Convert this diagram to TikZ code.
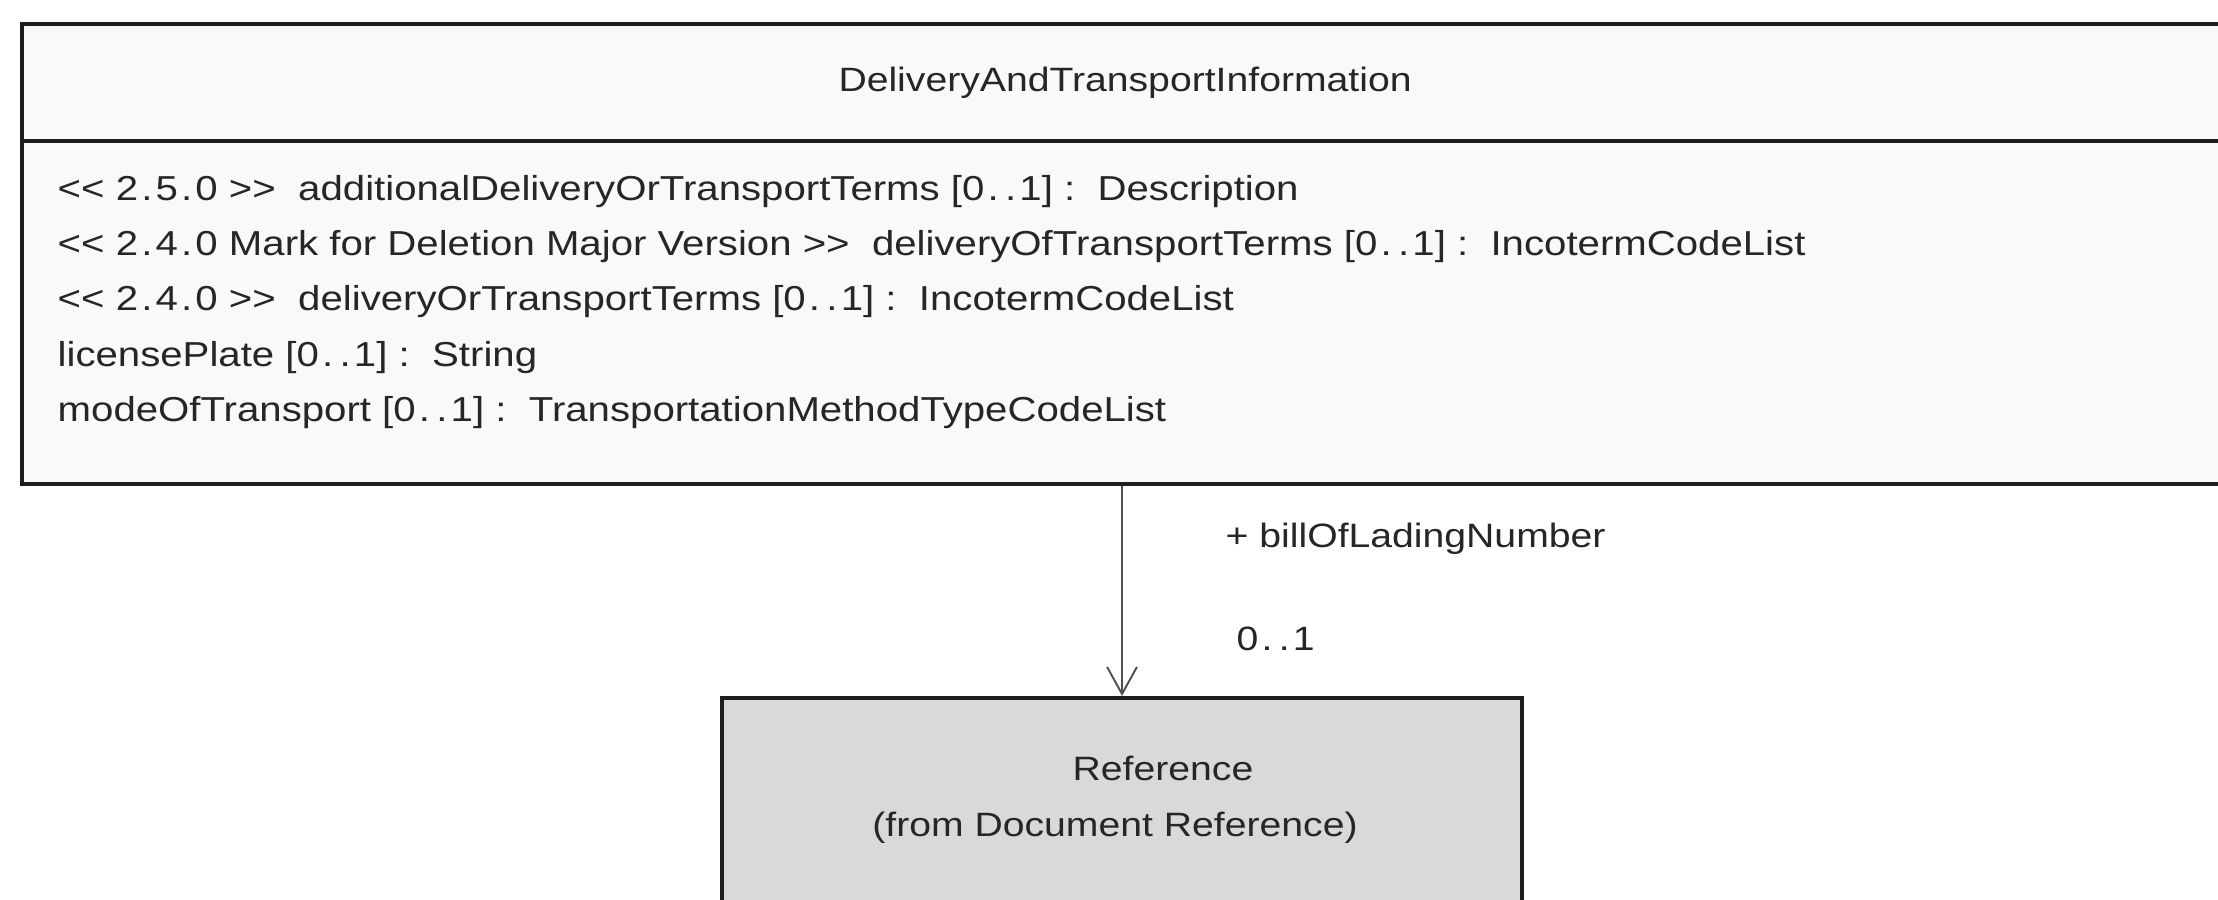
\documentclass[tikz,border=0pt]{standalone}
\usepackage{fontspec}
\setmainfont{Liberation Sans}[FakeStretch=1.16]
\usetikzlibrary{arrows.meta, positioning}

\definecolor{umlline}{HTML}{1E1E1E}
\definecolor{classfill}{HTML}{F9F9F9}
\definecolor{reffill}{HTML}{D9D9D9}
\definecolor{assocline}{HTML}{505050}
\newcommand{\guilopen}{<\kern0pt<}
\newcommand{\guilclose}{>\kern0pt>}
\newcommand{\dotsp}{\kern0.9pt.\kern0.9pt}

\begin{document}
\begin{tikzpicture}[
    x=0.01cm, y=0.01cm,
    every node/.style={font=\fontsize{9.6}{15.7}\selectfont, inner sep=0pt, text=black!85},
    classbox/.style={draw=umlline, line width=1.1pt, fill=classfill},
    refbox/.style={draw=umlline, line width=1.1pt, fill=reffill},
    assoc/.style={draw=assocline, line width=0.55pt, -{Straight Barb[length=7.7pt, width=8.5pt]}}
]
    \useasboundingbox (0,0) rectangle (2218,-900);
    \clip (0,0) rectangle (2218,-900);
    % class box
    \node[classbox, minimum width=22.05cm, minimum height=1.17cm, anchor=north west]
        (dti) at (20,-22) {DeliveryAndTransportInformation};
    \node[classbox, minimum width=22.05cm, minimum height=3.43cm, anchor=north]
        (dtibody) at ([yshift=1.1pt]dti.south) {};
    \node[anchor=west, align=left, font=\fontsize{9.85}{15.7}\selectfont] (attrs) at (57,-302) {%
        \guilopen{} 2\dotsp5\dotsp0 \guilclose\ \ additionalDeliveryOrTransportTerms [0\dotsp\dotsp1] :\ \ Description\\
        \guilopen{} 2\dotsp4\dotsp0 Mark for Deletion Major Version \guilclose\ \ deliveryOfTransportTerms [0\dotsp\dotsp1] :\ \ IncotermCodeList\\
        \guilopen{} 2\dotsp4\dotsp0 \guilclose\ \ deliveryOrTransportTerms [0\dotsp\dotsp1] :\ \ IncotermCodeList\\
        licensePlate [0\dotsp\dotsp1] :\ \ String\\
        modeOfTransport [0\dotsp\dotsp1] :\ \ TransportationMethodTypeCodeList};
    % referenced class
    \node[refbox, minimum width=8.0cm, minimum height=3cm, anchor=north] (ref) at (1122,-696) {};
    \node (refname) at (1163,-768) {Reference};
    \node (refpkg) at (1115,-828) {(from Document Reference)};
    \draw[assoc] (dtibody.south -| ref.north) -- (ref.north);
    \node[anchor=west] (role) at (1225,-539) {+ billOfLadingNumber};
    \node[anchor=west] (mult) at (1236,-639) {0\dotsp\dotsp1};
\end{tikzpicture}
\end{document}
